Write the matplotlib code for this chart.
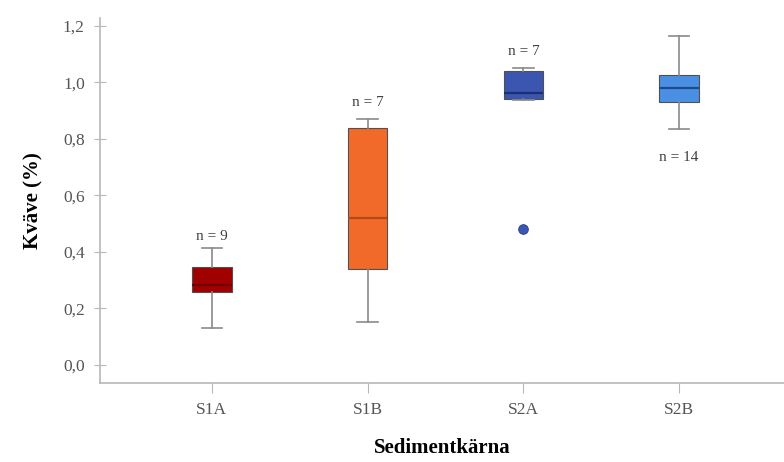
import matplotlib.pyplot as plt

# data
groups = ["S1A", "S1B", "S2A", "S2B"]
whislo = [0.131, 0.152, 0.938, 0.835]
q1 = [0.258, 0.340, 0.942, 0.931]
med = [0.283, 0.520, 0.963, 0.980]
q3 = [0.348, 0.839, 1.040, 1.027]
whishi = [0.414, 0.871, 1.051, 1.165]
fliers = [[], [], [0.481], []]
n_labels = ["n = 9", "n = 7", "n = 7", "n = 14"]
n_label_y = [0.455, 0.93, 1.11, 0.735]

box_colors = ["#a00000", "#f26a2a", "#3b56b0", "#4a8fe3"]
median_colors = ["#700000", "#b04a1a", "#1e2f70", "#1f4a88"]

plt.rcParams["font.family"] = ["Liberation Serif", "DejaVu Serif"]

fig = plt.figure(figsize=(7.84, 4.62), dpi=100)
ax = fig.add_axes([100 / 784, 79 / 462, 684 / 784, 365 / 462])

stats = []
for i, g in enumerate(groups):
    stats.append(dict(label=g, whislo=whislo[i], q1=q1[i], med=med[i],
                      q3=q3[i], whishi=whishi[i], fliers=fliers[i]))

pos = list(range(1, len(groups) + 1))
bp = ax.bxp(stats, positions=pos, widths=0.255, patch_artist=True,
            boxprops=dict(linewidth=0.8, edgecolor="#505050"),
            whiskerprops=dict(color="#8a8a8a", linewidth=1.2),
            capprops=dict(color="#8a8a8a", linewidth=1.2),
            capwidths=0.13,
            flierprops=dict(marker="o", markersize=7, markeredgecolor="#2a3e8a",
                            markeredgewidth=0.6))
for i in range(len(groups)):
    bp["boxes"][i].set_facecolor(box_colors[i])
    bp["medians"][i].set_color(median_colors[i])
    bp["medians"][i].set_linewidth(1.6)
bp["fliers"][2].set_markerfacecolor(box_colors[2])

for i, lab in enumerate(n_labels):
    ax.text(pos[i], n_label_y[i], lab, ha="center", va="center",
            fontsize=11, color="#404040")

ax.set_xlim(0.282, 4.673)
ax.set_ylim(-0.064, 1.228)
ax.set_yticks([0.0, 0.2, 0.4, 0.6, 0.8, 1.0, 1.2])
ax.set_yticklabels(["0,0", "0,2", "0,4", "0,6", "0,8", "1,0", "1,2"])
ax.set_xticks(pos)
ax.set_xticklabels(groups)

for s in ["top", "right"]:
    ax.spines[s].set_visible(False)
for s in ["left", "bottom"]:
    ax.spines[s].set_color("#b8b8b8")
    ax.spines[s].set_linewidth(1.2)

ax.tick_params(axis="y", direction="inout", length=8, color="#b8b8b8",
               labelsize=12.5, labelcolor="#555555", pad=7)
ax.tick_params(axis="x", direction="out", length=7, color="#b8b8b8",
               labelsize=12.5, labelcolor="#555555", pad=7)

ax.set_xlabel("Sedimentkärna", fontsize=15, fontweight="bold", labelpad=14)
ax.set_ylabel("Kväve (%)", fontsize=15, fontweight="bold", labelpad=14)

fig.savefig("out.png", dpi=100)
